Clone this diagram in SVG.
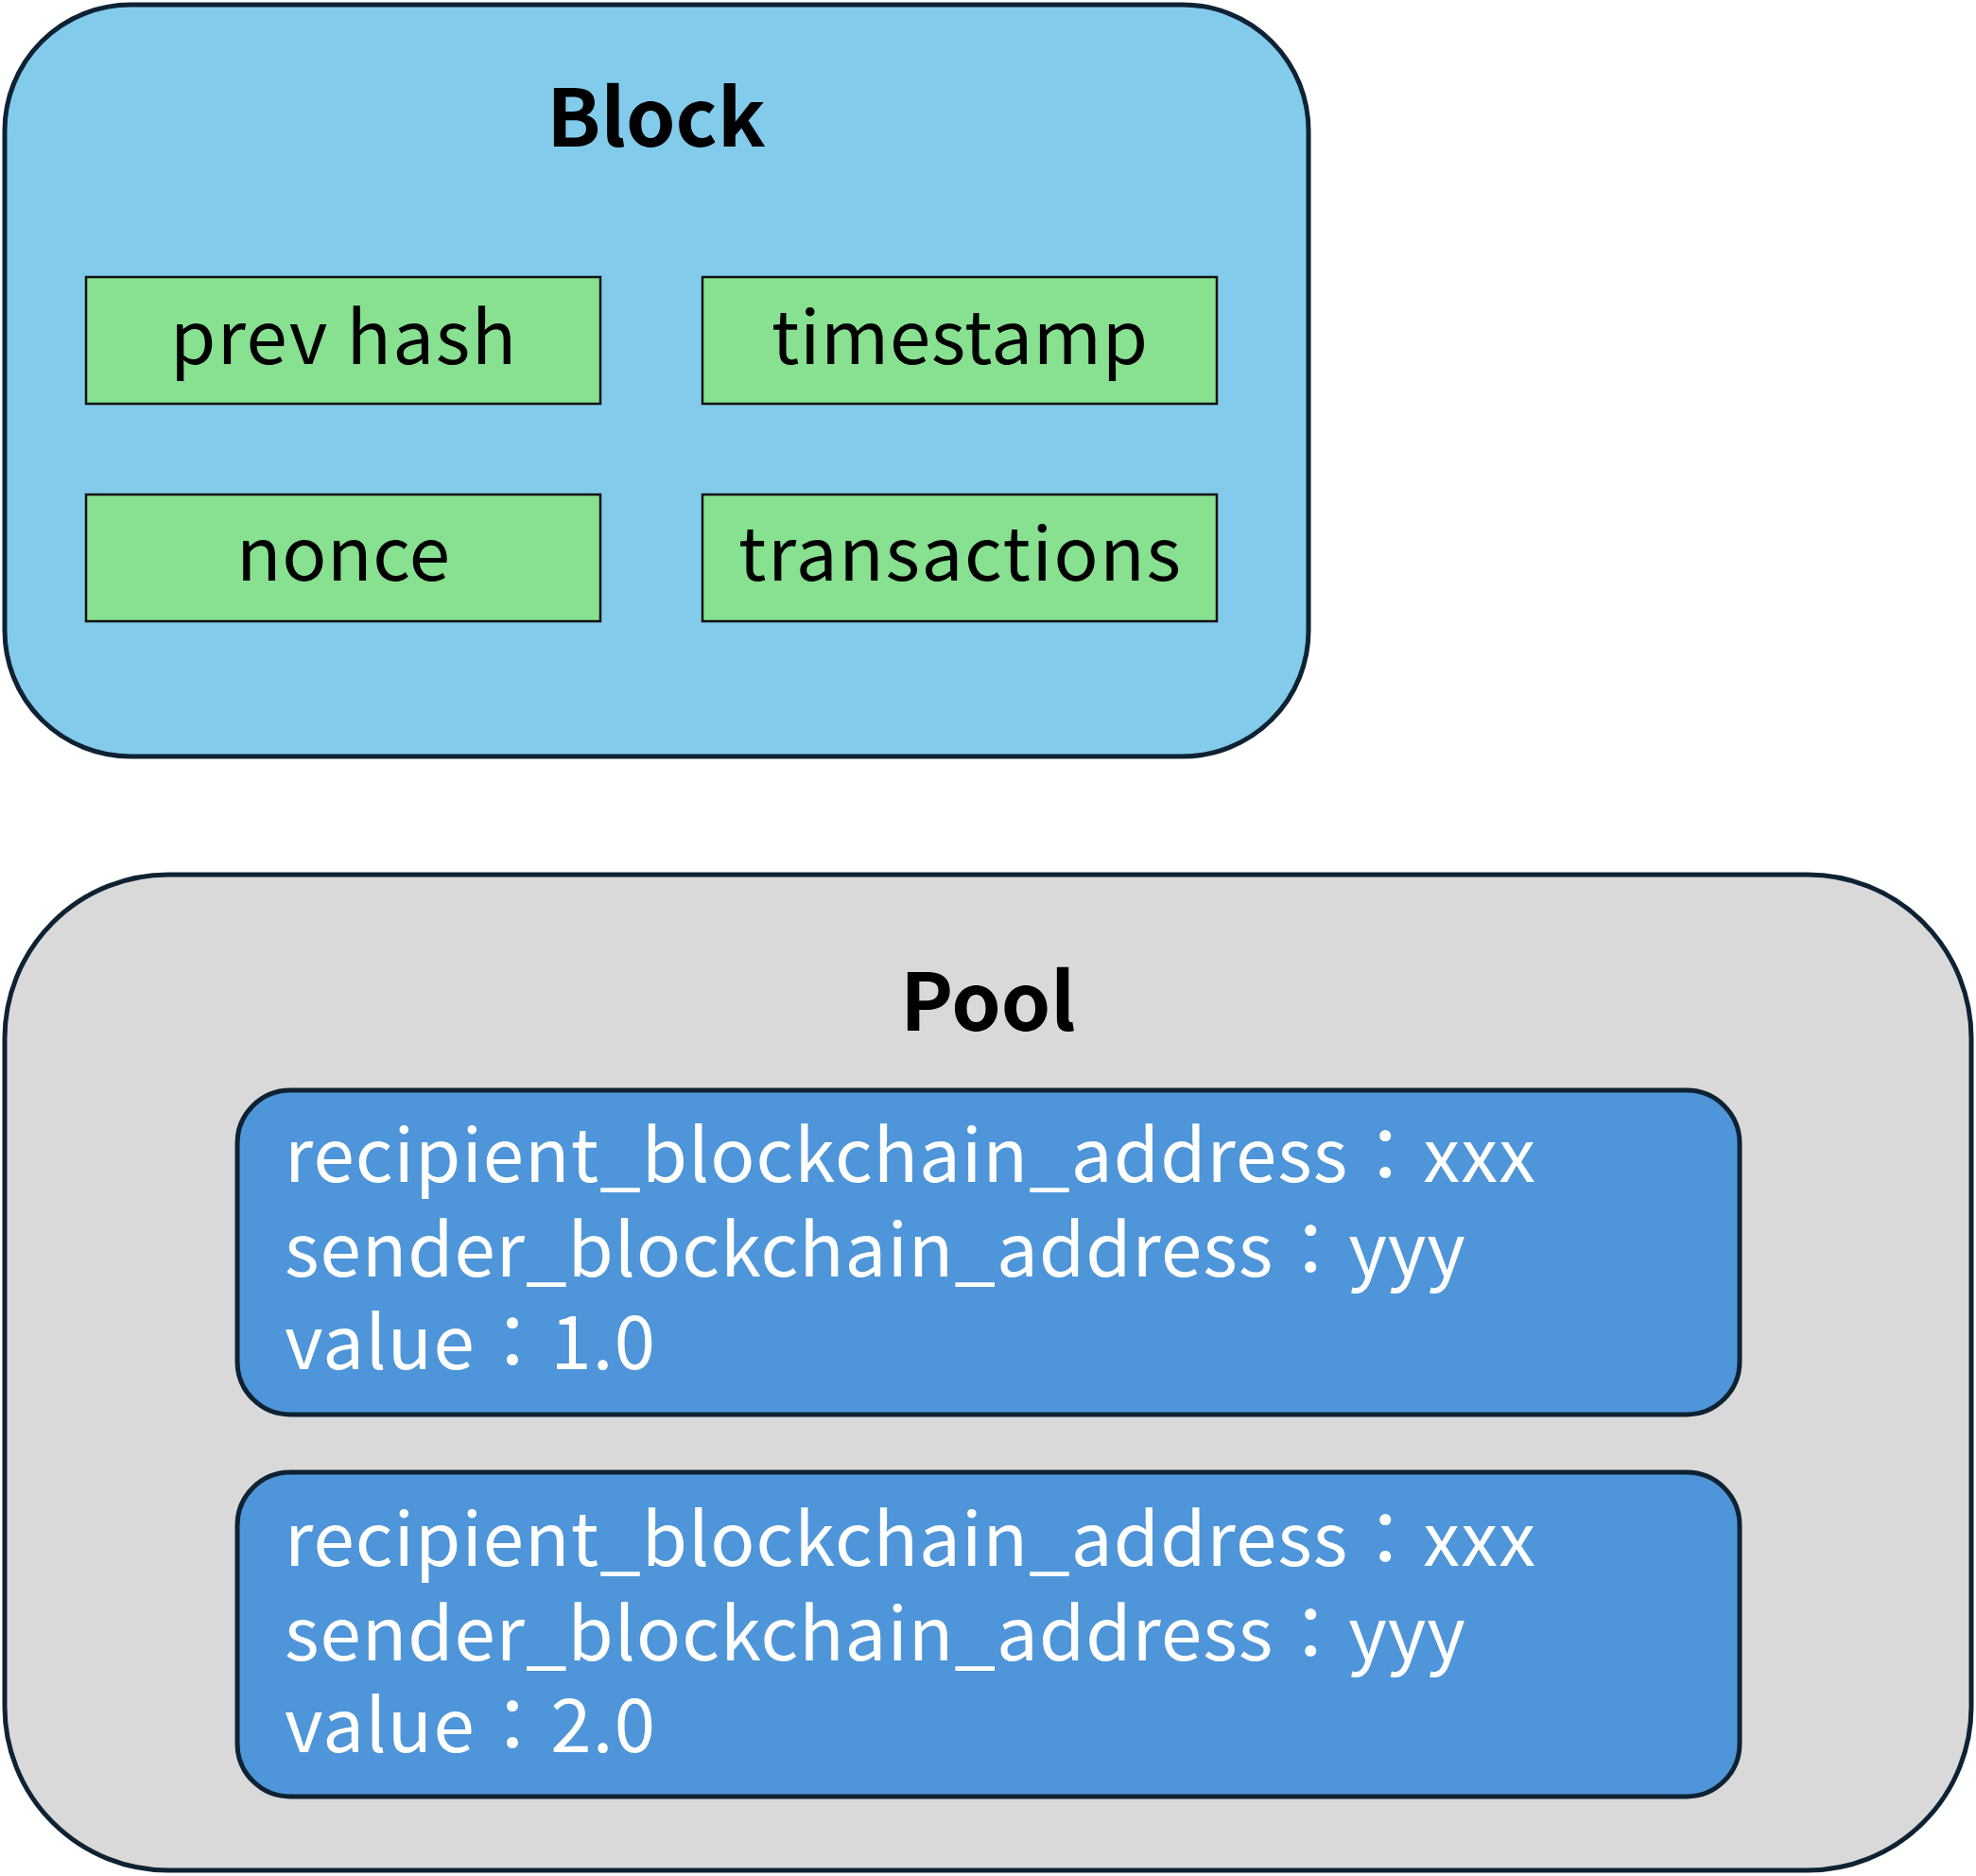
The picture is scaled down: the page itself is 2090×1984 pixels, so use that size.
<svg xmlns="http://www.w3.org/2000/svg" width="2090" height="1984" viewBox="0 0 2090 1984">
<style>
.outer{stroke:#0e2233;stroke-width:5}
.field{fill:#87e190;stroke:#111;stroke-width:2.5}
.ft{font-family:"Noto Sans CJK JP","Noto Sans",sans-serif;font-size:78px;fill:#000;text-anchor:middle}
.title{font-family:"Noto Sans CJK JP","Noto Sans",sans-serif;font-size:84px;font-weight:bold;fill:#000;text-anchor:middle}
.tx{fill:#4e95d9;stroke:#0e2233;stroke-width:5}
.tt{font-family:"Noto Sans CJK JP","Noto Sans",sans-serif;font-size:78px;fill:#fff}
</style>
<rect width="2090" height="1984" fill="#fff"/>
<g id="block">
<rect class="outer" x="5" y="5" width="1379" height="795" rx="133" fill="#83cbeb"/>
<text class="title" x="694" y="155">Block</text>
</g>
<g id="prevhash"><rect class="field" x="91" y="293" width="544" height="134"/><text class="ft" x="363" y="385" textLength="366">prev hash</text></g>
<g id="timestamp"><rect class="field" x="743" y="293" width="544" height="134"/><text class="ft" x="1015" y="385" textLength="398">timestamp</text></g>
<g id="nonce"><rect class="field" x="91" y="523" width="544" height="134"/><text class="ft" x="363" y="614" textLength="226">nonce</text></g>
<g id="transactions"><rect class="field" x="743" y="523" width="544" height="134"/><text class="ft" x="1015" y="614" textLength="468">transactions</text></g>
<g id="pool">
<rect class="outer" x="5" y="925" width="2080" height="1053" rx="173" fill="#d9d9d9"/>
<text class="title" x="1045" y="1090">Pool</text>
</g>
<g id="tx1">
<rect class="tx" x="251" y="1153" width="1589" height="343" rx="56"/>
<text class="tt" x="301" y="1250" textLength="1323">recipient_blockchain_address：xxx</text>
<text class="tt" x="301" y="1350" textLength="1249">sender_blockchain_address：yyy</text>
<text class="tt" x="301" y="1448" textLength="392">value：1.0</text>
</g>
<g id="tx2">
<rect class="tx" x="251" y="1557" width="1589" height="343" rx="56"/>
<text class="tt" x="301" y="1656" textLength="1323">recipient_blockchain_address：xxx</text>
<text class="tt" x="301" y="1756" textLength="1249">sender_blockchain_address：yyy</text>
<text class="tt" x="301" y="1853" textLength="392">value：2.0</text>
</g>
<g id="connectors"/>
</svg>
